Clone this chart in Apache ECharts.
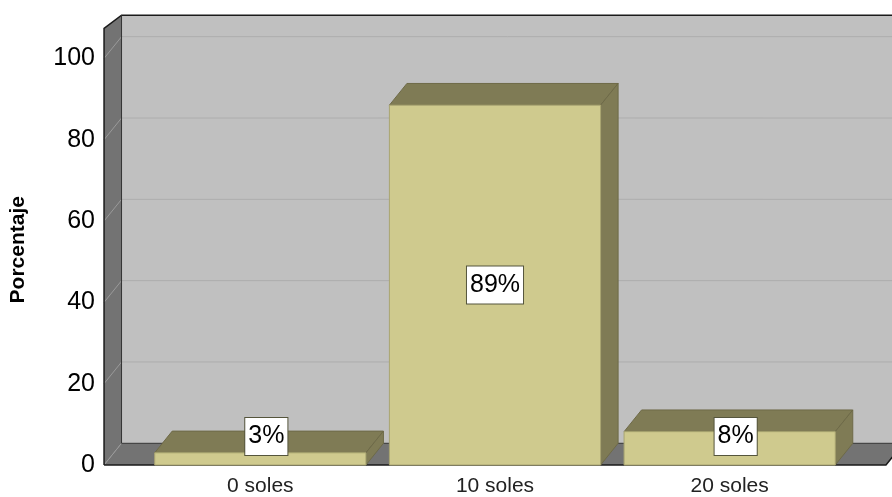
<!DOCTYPE html>
<html>
<head>
<meta charset="utf-8">
<script src="https://cdn.jsdelivr.net/npm/echarts@6/dist/echarts.min.js"></script>
<style>
html,body{margin:0;padding:0;background:#fff;}
#chart{width:892px;height:497px;}
</style>
</head>
<body>
<div id="chart"></div>
<script>
const categories = ['0 soles', '10 soles', '20 soles'];
const percentValues = [3, 88.5, 8.2];
const percentLabels = ['3%', '89%', '8%'];
const yTicks = [0, 20, 40, 60, 80, 100];

const DX = 17.5, DY = -21.7;       // 3D depth offset
const WALL_TOP_BACK = 105.3;       // top of the back wall (axis units, back plane)
const WALL_TOP_FRONT = 107.4;      // top of the left wall front edge (axis units)
const SIDE_PAD = 0.166;            // wall extension beyond category band (in bands)

const chart = echarts.init(document.getElementById('chart'), null, {renderer: 'canvas'});

function wallsRender(params, api) {
  const band = api.size([1, 0])[0];
  const first = api.coord([0, 0]);
  const last = api.coord([categories.length - 1, 0]);
  const xL = first[0] - band * (0.5 + SIDE_PAD);
  const xR = last[0] + band * (0.5 + SIDE_PAD);
  const y0 = first[1];
  const yTB = api.coord([0, WALL_TOP_BACK])[1] + DY;
  const yTF = api.coord([0, WALL_TOP_FRONT])[1];
  const children = [];
  children.push({type: 'polygon', shape: {points: [[xL + DX, yTB], [xR + DX + 40, yTB], [xR + DX + 40, y0 + DY], [xL + DX, y0 + DY]]},
    style: {fill: '#c0c0c0', stroke: null}});
  children.push({type: 'polygon', shape: {points: [[xL, y0], [xL, yTF], [xL + DX, yTB], [xL + DX, y0 + DY]]},
    style: {fill: '#737373', stroke: null}});
  children.push({type: 'polygon', shape: {points: [[xL, y0], [xR, y0], [xR + DX, y0 + DY], [xL + DX, y0 + DY]]},
    style: {fill: '#737373', stroke: null}});
  yTicks.forEach(v => {
    const y = api.coord([0, v])[1];
    if (v > 0) {
      children.push({type: 'line', shape: {x1: xL + DX, y1: y + DY, x2: xR + DX + 40, y2: y + DY}, style: {stroke: '#adadad', lineWidth: 1}});
    }
    children.push({type: 'line', shape: {x1: xL, y1: y, x2: xL + DX, y2: y + DY}, style: {stroke: '#9a9a9a', lineWidth: 1}});
  });
  const dark = '#1a1a1a';
  children.push({type: 'polyline', shape: {points: [[xL, y0], [xL, yTF], [xL + DX, yTB], [xR + DX + 40, yTB]]}, style: {stroke: dark, lineWidth: 1.5, fill: null}});
  children.push({type: 'polyline', shape: {points: [[xL + DX, yTB], [xL + DX, y0 + DY], [xR + DX + 40, y0 + DY]]}, style: {stroke: '#333', lineWidth: 1, fill: null}});
  children.push({type: 'polyline', shape: {points: [[xL, y0], [xR, y0], [xR + DX, y0 + DY]]}, style: {stroke: dark, lineWidth: 1.5, fill: null}});
  return {type: 'group', children: children};
}

function barRender(params, api) {
  const idx = api.value(0);
  const val = api.value(1);
  const top = api.coord([idx, val]);
  const base = api.coord([idx, 0]);
  const w = api.size([1, 0])[0] * 0.9;
  const x0 = top[0] - w / 2, x1 = top[0] + w / 2;
  const yt = top[1], yb = base[1];
  const edge = '#6e6a48';
  const children = [
    {type: 'polygon', shape: {points: [[x0, yt], [x1, yt], [x1 + DX, yt + DY], [x0 + DX, yt + DY]]},
      style: {fill: '#7f7b55', stroke: edge, lineWidth: 1}},
    {type: 'polygon', shape: {points: [[x1, yt], [x1 + DX, yt + DY], [x1 + DX, yb + DY], [x1, yb]]},
      style: {fill: '#7f7b55', stroke: edge, lineWidth: 1}},
    {type: 'rect', shape: {x: x0, y: yt, width: w, height: yb - yt},
      style: {fill: '#cfca8e', stroke: '#a9a571', lineWidth: 1}}
  ];
  const mid = (yt + yb) / 2;
  const minOff = 28.5;
  const clamped = mid > yb - minOff;
  const ly = clamped ? yb - minOff : mid;
  const lx = clamped ? top[0] + 6 : top[0];
  children.push({type: 'text', x: lx, y: ly,
    style: {text: percentLabels[params.dataIndex], fill: '#000', fontFamily: 'Liberation Sans, Arial, sans-serif', fontSize: 25,
      align: 'center', verticalAlign: 'middle', backgroundColor: '#ffffff', borderColor: '#55553c', borderWidth: 1,
      padding: [6, 3, 5, 3], lineHeight: 26}});
  return {type: 'group', children: children};
}

chart.setOption({
  animation: false,
  backgroundColor: '#ffffff',
  grid: {left: 143, right: 45, top: 58.4, bottom: 32, containLabel: false},
  xAxis: {
    type: 'category', data: categories,
    axisLine: {show: false}, axisTick: {show: false}, splitLine: {show: false},
    axisLabel: {color: '#222', fontSize: 21, fontFamily: 'Liberation Sans, Arial, sans-serif', margin: 11}
  },
  yAxis: {
    type: 'value', min: 0, max: 100, interval: 20,
    name: 'Porcentaje', nameLocation: 'middle', nameGap: 114, nameRotate: 90,
    nameTextStyle: {color: '#000', fontSize: 21, fontWeight: 'bold', fontFamily: 'Liberation Sans, Arial, sans-serif', padding: [0, 0, 0, 24]},
    axisLine: {show: false}, axisTick: {show: false}, splitLine: {show: false},
    axisLabel: {color: '#000', fontSize: 25, fontFamily: 'Liberation Sans, Arial, sans-serif', margin: 48, padding: [10, 0, 0, 0]}
  },
  series: [
    {type: 'custom', name: 'walls', renderItem: wallsRender, data: [[0, 0]], clip: false, silent: true, z: 1},
    {type: 'custom', name: 'Porcentaje', renderItem: barRender, clip: false, z: 2,
      data: percentValues.map((v, i) => [i, v])}
  ]
});
</script>
</body>
</html>
